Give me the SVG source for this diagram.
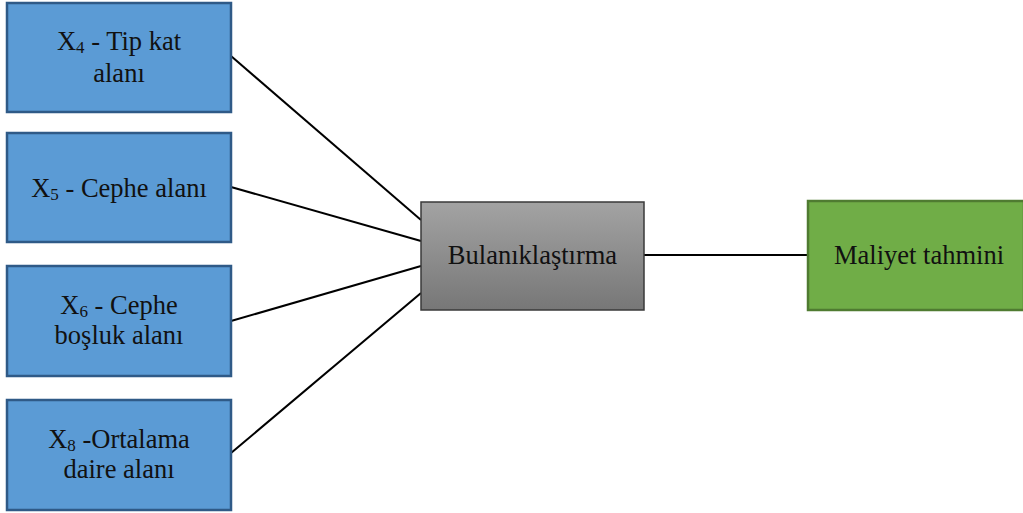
<svg xmlns="http://www.w3.org/2000/svg" width="1023" height="513" viewBox="0 0 1023 513">
<defs>
<linearGradient id="g" x1="0" y1="0" x2="0" y2="1">
<stop offset="0" stop-color="#a3a3a3"/>
<stop offset="1" stop-color="#777777"/>
</linearGradient>
<style>
.b{fill:#5b9bd5;stroke:#2f5a87;stroke-width:2.5}
.t{font-family:"Liberation Serif","Times New Roman",serif;font-size:26.5px;fill:#111;text-anchor:middle}
.s{font-size:17px}
.c{stroke:#000;stroke-width:2;fill:none}
</style>
</defs>
<rect width="1023" height="513" fill="#fff"/>
<g id="connectors">
<line class="c" x1="231" y1="56" x2="421" y2="220"/>
<line class="c" x1="231" y1="187" x2="421" y2="241"/>
<line class="c" x1="231" y1="321" x2="421" y2="266"/>
<line class="c" x1="231" y1="453" x2="421" y2="293"/>
<line class="c" x1="644" y1="255" x2="808" y2="255"/>
</g>
<g id="x4">
<rect class="b" x="7" y="3" width="224" height="109"/>
<text class="t" x="119" y="50">X<tspan class="s" dy="3">4</tspan><tspan dy="-3"> - Tip kat</tspan></text>
<text class="t" x="119" y="82">alanı</text>
</g>
<g id="x5">
<rect class="b" x="7" y="133" width="224" height="109"/>
<text class="t" x="119" y="197">X<tspan class="s" dy="3">5</tspan><tspan dy="-3"> - Cephe alanı</tspan></text>
</g>
<g id="x6">
<rect class="b" x="7" y="266" width="224" height="110"/>
<text class="t" x="119" y="314">X<tspan class="s" dy="3">6</tspan><tspan dy="-3"> - Cephe</tspan></text>
<text class="t" x="119" y="344">boşluk alanı</text>
</g>
<g id="x8">
<rect class="b" x="7" y="400" width="224" height="110"/>
<text class="t" x="119" y="448">X<tspan class="s" dy="3">8</tspan><tspan dy="-3"> -Ortalama</tspan></text>
<text class="t" x="119" y="478">daire alanı</text>
</g>
<g id="bulaniklastirma">
<rect x="421" y="202" width="223" height="108" fill="url(#g)" stroke="#3a3a3a" stroke-width="1.5"/>
<text class="t" x="532.5" y="264">Bulanıklaştırma</text>
</g>
<g id="maliyet">
<rect x="808" y="201" width="216" height="109" fill="#70ad47" stroke="#4f7b31" stroke-width="2.5"/>
<text class="t" x="919" y="264">Maliyet tahmini</text>
</g>
</svg>
